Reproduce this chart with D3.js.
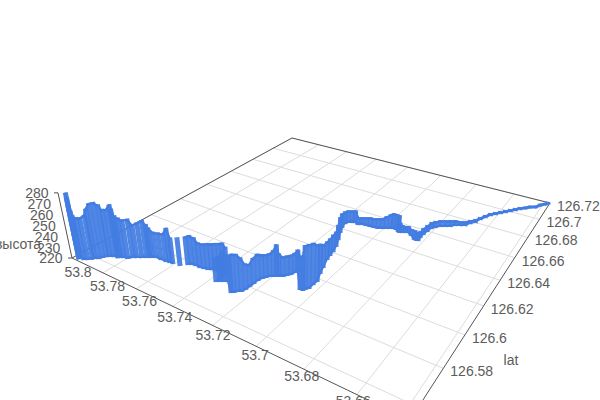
<!DOCTYPE html>
<html><head><meta charset="utf-8"><script src="https://cdn.jsdelivr.net/npm/d3@7"></script>
<style>html,body{margin:0;background:#fff}svg{display:block}text{font-family:"Liberation Sans",Arial,sans-serif;font-size:14px;fill:#5c5c5c}</style></head>
<body><svg id="c" width="600" height="400"></svg>
<script>
const lonTicks=[53.8,53.78,53.76,53.74,53.72,53.7,53.68,53.66];
const latTicks=[126.72,126.7,126.68,126.66,126.64,126.62,126.6,126.58,126.56];
const altTicks=[220,230,240,250,260,270,280];
const lon=[7968,7968,7968,7965,7961,7944,7930,7916,7911,7897,7889,7881,7870,7856,7835,7832,7825,7814,7794,7782,7767,7749,7732,7721,7714,7699,7670,7641,7622,7606,7570,7548,7535,7514,7490,7471,7452,7439,7420,7401,7378,7359,7360,7364,7368,7355,7341,7328,7270,7261,7252,7239,7234,7233,7232,7231,7226,7217,7208,7194,7184,7177,7164,7154,7144,7139,7133,7056,7043,7040,7030,7031,7029,7049,7062,7080,7086,7091,7102,7124,7148,7164,7171,7164,7148,7136,7115,7100,7079,7059,7039,7020,7004,6989,6973,6962,6946,6930,6922,6911,6899,6888,6865,6839,6828,6821,6824,6823,6819,6814,6803,6787,6767,6748,6732,6712,6693,6680,6663,6653,6640,6626,6609,6592,6575,6558,6541,6525,6506,6488,6467,6452,6434,6425].map(d=>53+d/1e4);
const lat=[5552,5552,5552,5554,5556,5559,5568,5582,5590,5599,5614,5629,5636,5646,5650,5652,5657,5664,5669,5686,5695,5707,5719,5727,5731,5741,5742,5743,5747,5748,5754,5778,5787,5791,5789,5793,5797,5806,5810,5814,5812,5808,5790,5770,5751,5760,5769,5778,5728,5734,5748,5757,5776,5801,5825,5851,5871,5885,5900,5909,5916,5921,5930,5945,5959,5980,5993,5895,5896,5906,5920,5951,5978,6032,6076,6136,6170,6204,6247,6302,6360,6404,6444,6461,6471,6479,6470,6481,6483,6485,6487,6490,6500,6510,6521,6528,6528,6517,6511,6519,6526,6534,6517,6493,6490,6495,6524,6556,6591,6627,6646,6667,6680,6693,6715,6728,6741,6772,6795,6836,6868,6901,6924,6948,6971,6995,7019,7042,7067,7091,7105,7140,7164,7184].map(d=>126+d/1e4);
const alt=[281,277,270,265,261,260,260,262,267,272,272,269,265,265,270,266,260,258,257,257,252,254,256,252,249,245,246,247,253,245,247,247,248,247,244,244,245,245,246,247,249,247,244,242,242,243,244,245,254,255,254,251,244,241,244,245,243,242,242,245,250,242,239,239,239,239,241,250,252,260,260,258,254,248,242,238,237,237,235,235,236,235,233,233,233,233,228,228,229,230,230,231,231,233,235,236,236,237,231,228,227,227,227,230,229,228,227,227,227,227,227,227,227,227,226,225,225,224,224,223,223,223,223,223,223,223,223,223,222,222,222,222,222,222];

const U=d3.scaleLinear().domain([53.8,53.6419]).range([0,1]);
const V=d3.scaleLinear().domain([126.554,126.72]).range([0,1]);
const Z=d3.scaleLinear().domain([220,280]).range([0,1]);
// perspective camera
function P(lo,la,al){const u=U(lo),v=V(la),z=Z(al),j=-.0579,
  w=1-.3046*u+.4754*v+j*z;
  return [(213.1*u+358.8*v+72+300*j*z)/w,(34.1*u-54.4*v+258+1318*j*z)/w];}
const svg=d3.select("#c");
const [lo0,lo1]=U.domain(),[la0,la1]=V.domain();
const seg=(a,b,c,wd)=>svg.append("line").attr("x1",a[0]).attr("y1",a[1]).attr("x2",b[0]).attr("y2",b[1]).attr("stroke",c).attr("stroke-width",wd);
// floor grid
lonTicks.forEach(t=>seg(P(t,la0,220),P(t,la1,220),"#dcdcdc",1));
latTicks.forEach(t=>seg(P(lo0,t,220),P(lo1,t,220),"#dcdcdc",1));
seg(P(53.6445,la0,220),P(53.6445,la1,220),"#dcdcdc",1);
// box edges
const edge="#555";
seg(P(lo0,la0,220),P(lo1,la0,220),edge,1);
seg(P(lo1,la0,220),P(lo1,la1,220),edge,1);
seg(P(lo1,la1,220),P(lo0,la1,220),edge,1);
seg(P(lo0,la1,220),P(lo0,la0,220),edge,1);
seg(P(lo0,la0,220),P(lo0,la0,280),edge,1);
[220,280].forEach(a=>{const p=P(lo0,la0,a);seg(p,[p[0]-4,p[1]],edge,1)});
// bars
const blue="#437de2";
svg.append("g").selectAll("line").data(d3.range(lon.length)).join("line")
 .attr("x1",i=>P(lon[i],lat[i],220)[0]).attr("y1",i=>P(lon[i],lat[i],220)[1])
 .attr("x2",i=>P(lon[i],lat[i],alt[i])[0]).attr("y2",i=>P(lon[i],lat[i],alt[i])[1])
 .attr("stroke",blue).attr("stroke-width",5).attr("stroke-opacity",.93);
// rounded bar ends: joins neighbouring bar tops and feet, leaving the real gaps open
const rim=svg.append("g").attr("stroke",blue).attr("stroke-width",2.4).attr("stroke-linecap","round").attr("fill","none");
d3.range(lon.length-1).forEach(i=>{
  const a0=P(lon[i],lat[i],220),b0=P(lon[i+1],lat[i+1],220);
  if(Math.abs(a0[0]-b0[0])>6) return;
  const a1=P(lon[i],lat[i],alt[i]),b1=P(lon[i+1],lat[i+1],alt[i+1]);
  rim.append("path").attr("d",d3.line()([[a0[0],a0[1]-1.2],[b0[0],b0[1]-1.2]]));
  rim.append("path").attr("d",d3.line()([[a1[0],a1[1]+1.2],[b1[0],b1[1]+1.2]]));
});
// labels
const txt=(s,x,y,a)=>svg.append("text").text(s).attr("x",x).attr("y",y).attr("text-anchor",a).attr("dominant-baseline","central");
lonTicks.forEach(t=>{const p=P(t,la0,220),u=U(t);txt(String(t),p[0]+6-11*u,p[1]+14-9*u,"middle")});
latTicks.forEach(t=>{const p=P(lo1,t,220);txt(String(t),p[0]+7,p[1]+3,"start")});
altTicks.forEach(t=>{const p=P(lo0,la0,t);txt(String(t),p[0]-9.5,p[1],"end")});
txt("высота",18,244,"middle");
txt("lat",511,360,"middle");
</script></body></html>
